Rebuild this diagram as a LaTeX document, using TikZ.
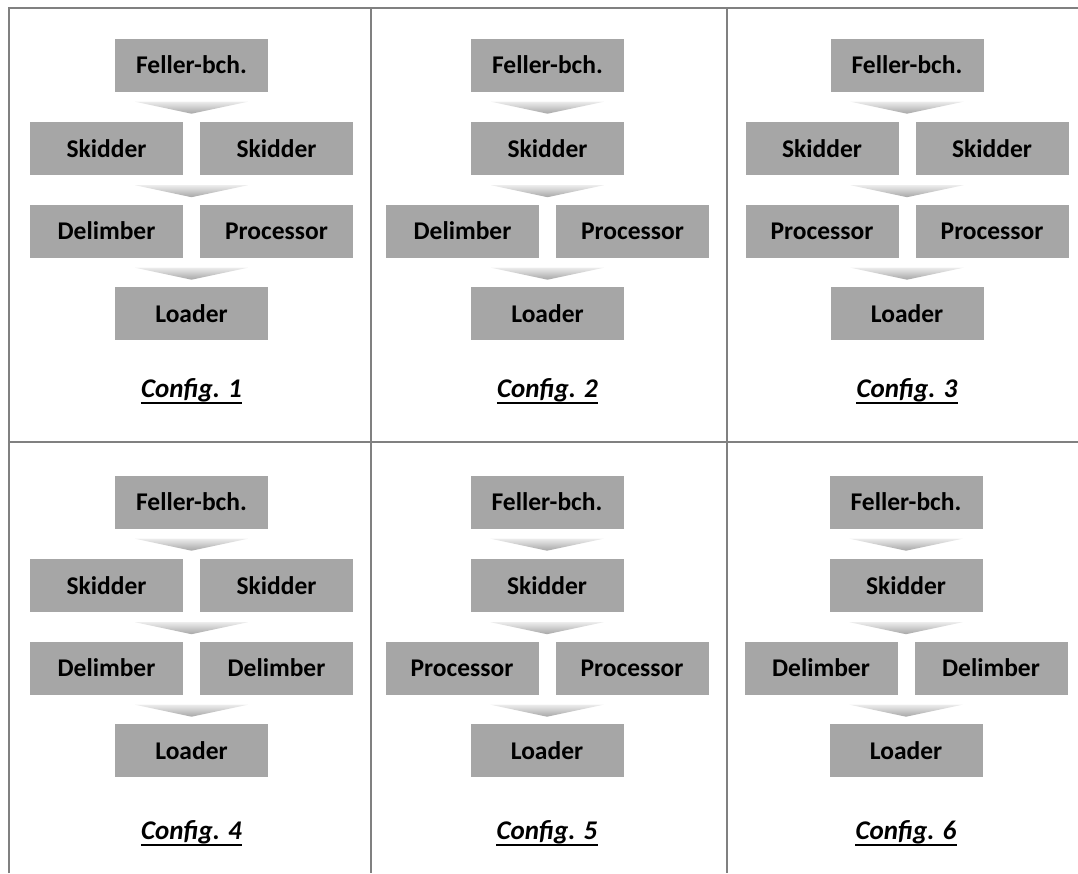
\documentclass[tikz,border=0pt]{standalone}
\usepackage{fontspec}
\setmainfont{Carlito}
\usetikzlibrary{calc}
\definecolor{boxgray}{RGB}{166,166,166}
\definecolor{gridgray}{RGB}{128,128,128}
\tikzset{
  machine/.style={fill=boxgray, minimum width=153pt, minimum height=53pt, inner sep=0pt,
    font=\fontsize{25.5}{30}\selectfont\bfseries},
  chevron/.style={top color=gray!15, bottom color=gray!70, draw=none},
  cfglabel/.style={anchor=base, inner sep=0pt, font=\fontsize{27}{32}\selectfont\bfseries\itshape},
  gridline/.style={draw=gridgray, line width=2pt}
}
\newcommand{\chev}[1]{\path[chevron] ($#1+(-56.5,10)$) -- ($#1+(56.5,10)$) -- ($#1+(0,22)$) -- cycle;}

\begin{document}
\begin{tikzpicture}[x=1pt,y=-1pt]
\useasboundingbox (0,0) rectangle (1078,873);
% frame and panel lines
\draw[gridline] (9,873) -- (9,8) -- (1078,8);
\draw[gridline] (371,8) -- (371,873);
\draw[gridline] (727,8) -- (727,873);
\draw[gridline] (9,442) -- (1078,442);
% panels
\foreach \n/\cx/\cy/\ly/\two/\da/\db in {
  1/191.5/0/397/1/Delimber/Processor,
  2/547.5/0/397/0/Delimber/Processor,
  3/907/0/397/1/Processor/Processor,
  4/191.5/437/839/1/Delimber/Delimber,
  5/547/437/839/0/Processor/Processor,
  6/906/437/839/0/Delimber/Delimber}{
  \node[machine] (f\n) at (\cx,\cy+65) {Feller-bch.};
  \ifnum\two=1
    \node[machine] (sa\n) at (\cx-85,\cy+148.5) {Skidder};
    \node[machine] (sb\n) at (\cx+85,\cy+148.5) {Skidder};
  \else
    \node[machine] (sa\n) at (\cx,\cy+148.5) {Skidder};
  \fi
  \node[machine] (da\n) at (\cx-85,\cy+231) {\da};
  \node[machine] (db\n) at (\cx+85,\cy+231) {\db};
  \node[machine] (l\n) at (\cx,\cy+313.5) {Loader};
  \chev{(f\n.south)}
  \chev{(f\n.south |- sa\n.south)}
  \chev{(f\n.south |- da\n.south)}
  \node[cfglabel] (c\n) at (\cx,\ly) {Config. \n};
  \draw[line width=1.8pt] ([yshift=-6pt]c\n.base west) -- ([yshift=-6pt]c\n.base east);
}
\end{tikzpicture}
\end{document}
